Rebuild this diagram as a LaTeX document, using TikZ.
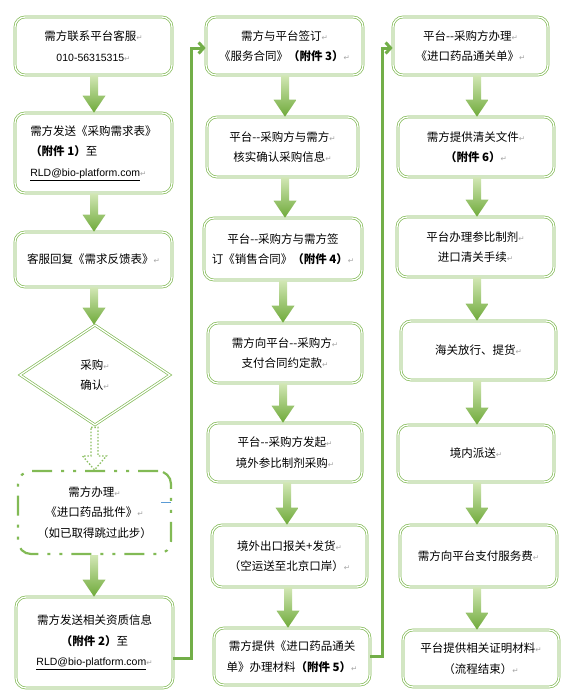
\documentclass[tikz,border=0pt]{standalone}
\usepackage{fontspec}
\setmainfont{Noto Sans CJK SC}
\newfontfamily\latfont{Liberation Sans}
\newfontfamily\dvfont{DejaVu Sans}
\usetikzlibrary{shapes.geometric,arrows.meta,calc}
\definecolor{boxgreen}{HTML}{82BA55}
\definecolor{lngreen}{HTML}{72AE48}
\definecolor{dotgreen}{HTML}{8CC063}
\definecolor{arrtop}{HTML}{D2E7B5}
\definecolor{arrbot}{HTML}{6FAA3A}
\definecolor{retgray}{HTML}{A6A6A6}
\definecolor{tickblue}{HTML}{5B9BD5}
\newcommand{\retm}{{\dvfont\fontsize{7.5}{7.5}\selectfont\color{retgray}↵}}
\newcommand{\lat}[1]{{\latfont\fontsize{10.5}{20.5}\selectfont #1}}
\newcommand{\fatarr}[3]{%
  \coordinate (xc) at (#3,0);
  \shade[arrshade] ($(#1.south -| xc)+(-4,0)$) -- ($(#1.south -| xc)+(4,0)$)
    -- ($(xc |- #2.north)+(4,-17)$) -- ($(xc |- #2.north)+(11.5,-17)$)
    -- (xc |- #2.north) -- ($(xc |- #2.north)+(-11.5,-17)$)
    -- ($(xc |- #2.north)+(-4,-17)$) -- cycle;}
\newcommand{\dotarr}[3]{%
  \coordinate (xc) at (#3,0);
  \draw[dotarrow] ($(#1.south -| xc)+(-3.5,2)$) -- ($(#1.south -| xc)+(3.5,2)$)
    -- ($(xc |- #2.north)+(3.5,-14)$) -- ($(xc |- #2.north)+(12,-14)$)
    -- (xc |- #2.north) -- ($(xc |- #2.north)+(-12,-14)$)
    -- ($(xc |- #2.north)+(-3.5,-14)$) -- cycle;}
\tikzset{
  box/.style={draw=boxgreen, double=white, double distance=1.3pt, line width=0.7pt,
    rounded corners=10pt, align=center, inner sep=2pt,
    font=\fontsize{11.5}{20.5}\selectfont},
  dashbox/.style={draw=boxgreen, line width=2.2pt, rounded corners=13pt,
    dash pattern=on 20pt off 9pt on 3pt off 9pt on 3pt off 9pt,
    align=center, inner sep=2pt, font=\fontsize{11.5}{20.5}\selectfont},
  decision/.style={diamond, aspect=1.5, draw=boxgreen, double=white,
    double distance=1.3pt, line width=0.7pt, inner sep=0pt, align=center,
    font=\fontsize{11.5}{20.5}\selectfont},
  arrshade/.style={top color=arrtop, bottom color=arrbot},
  dotarrow/.style={draw=dotgreen, line width=1.3pt, dash pattern=on 1.5pt off 1.8pt},
  conn/.style={draw=lngreen, line width=3pt,
    -{Straight Barb[length=5pt,width=11pt]}},
}
\begin{document}
\begin{tikzpicture}[x=1pt,y=-1pt]
\fill[white] (0,0) rectangle (573,696);
\useasboundingbox (0,0) rectangle (573,696);

% column 1
\node[box, minimum width=157pt, minimum height=58pt] (a1) at (93.5,46)
  {需方联系平台客服\retm\\\lat{010-56315315}\retm};
\node[box, align=left, minimum width=157pt, minimum height=80pt] (a2) at (93.5,153)
  {需方发送《采购需求表》\\\textbf{（附件 1）}至\\\underline{\lat{RLD@bio-platform.com}}\retm};
\node[box, minimum width=157pt, minimum height=55pt] (a3) at (93.5,259.5)
  {客服回复《需求反馈表》\retm};
\node[decision, minimum width=150pt, minimum height=100pt] (a4) at (95,375)
  {采购\retm\\确认\retm};
\node[dashbox, minimum width=153pt, minimum height=83pt] (a5) at (94.5,512.5)
  {需方办理\retm\\《进口药品批件》\retm\\（如已取得跳过此步）};
\node[box, minimum width=157pt, minimum height=91pt] (a6) at (94.5,642.5)
  {需方发送相关资质信息\\\textbf{（附件 2）}至\\\underline{\lat{RLD@bio-platform.com}}\retm};

% column 2
\node[box, minimum width=157pt, minimum height=58pt] (b1) at (284.5,46)
  {需方与平台签订\retm\\《服务合同》\textbf{（附件 3）}\retm};
\node[box, minimum width=151pt, minimum height=60pt] (b2) at (282.5,147)
  {平台-{}-采购方与需方\retm\\核实确认采购信息\retm};
\node[box, minimum width=158pt, minimum height=62pt] (b3) at (283,249)
  {平台-{}-采购方与需方签\\订《销售合同》\textbf{（附件 4）}\retm};
\node[box, minimum width=154pt, minimum height=60pt] (b4) at (285,353)
  {需方向平台-{}-采购方\retm\\支付合同约定款\retm};
\node[box, minimum width=154pt, minimum height=59pt] (b5) at (285,452.5)
  {平台-{}-采购方发起\retm\\境外参比制剂采购\retm};
\node[box, minimum width=155pt, minimum height=62pt] (b6) at (289.5,556)
  {境外出口报关+发货\retm\\（空运送至北京口岸）\retm};
\node[box, minimum width=156pt, minimum height=57pt] (b7) at (292,656.5)
  {需方提供《进口药品通关\\单》办理材料\textbf{（附件 5）}\retm};

% column 3
\node[box, minimum width=155pt, minimum height=58pt] (c1) at (470.5,46)
  {平台-{}-采购方办理\retm\\《进口药品通关单》\retm};
\node[box, minimum width=156pt, minimum height=60pt] (c2) at (476,147)
  {需方提供清关文件\retm\\\textbf{（附件 6）}\retm};
\node[box, minimum width=157pt, minimum height=60pt] (c3) at (475.5,247)
  {平台办理参比制剂\retm\\进口清关手续\retm};
\node[box, minimum width=155pt, minimum height=59pt] (c4) at (478.5,350.5)
  {海关放行、提货\retm};
\node[box, minimum width=156pt, minimum height=57pt] (c5) at (476,453.5)
  {境内派送\retm};
\node[box, minimum width=157pt, minimum height=62pt] (c6) at (478.5,556)
  {需方向平台支付服务费\retm};
\node[box, minimum width=156pt, minimum height=57pt] (c7) at (481,658.5)
  {平台提供相关证明材料\retm\\（流程结束）\retm};

% fat arrows
\fatarr{a1}{a2}{94}
\fatarr{a2}{a3}{94}
\fatarr{a3}{a4}{94}
\dotarr{a4}{a5}{94.5}
\fatarr{a5}{a6}{94}
\fatarr{b1}{b2}{285}
\fatarr{b2}{b3}{285}
\fatarr{b3}{b4}{283}
\fatarr{b4}{b5}{283}
\fatarr{b5}{b6}{287}
\fatarr{b6}{b7}{288}
\fatarr{c1}{c2}{477}
\fatarr{c2}{c3}{477}
\fatarr{c3}{c4}{477}
\fatarr{c4}{c5}{477}
\fatarr{c5}{c6}{477}
\fatarr{c6}{c7}{477}

% connectors between columns
\coordinate (j1) at (191,48);
\coordinate (j2) at (382.5,48);
\draw[conn] ([yshift=-15.5pt]a6.east) -| (j1) -- (j1 -| b1.west);
\draw[conn] (b7.east) -| (j2) -- (j2 -| c1.west);

% small blue mark
\draw[tickblue, line width=0.8pt] (161,502) -- (171,502);
\end{tikzpicture}
\end{document}
